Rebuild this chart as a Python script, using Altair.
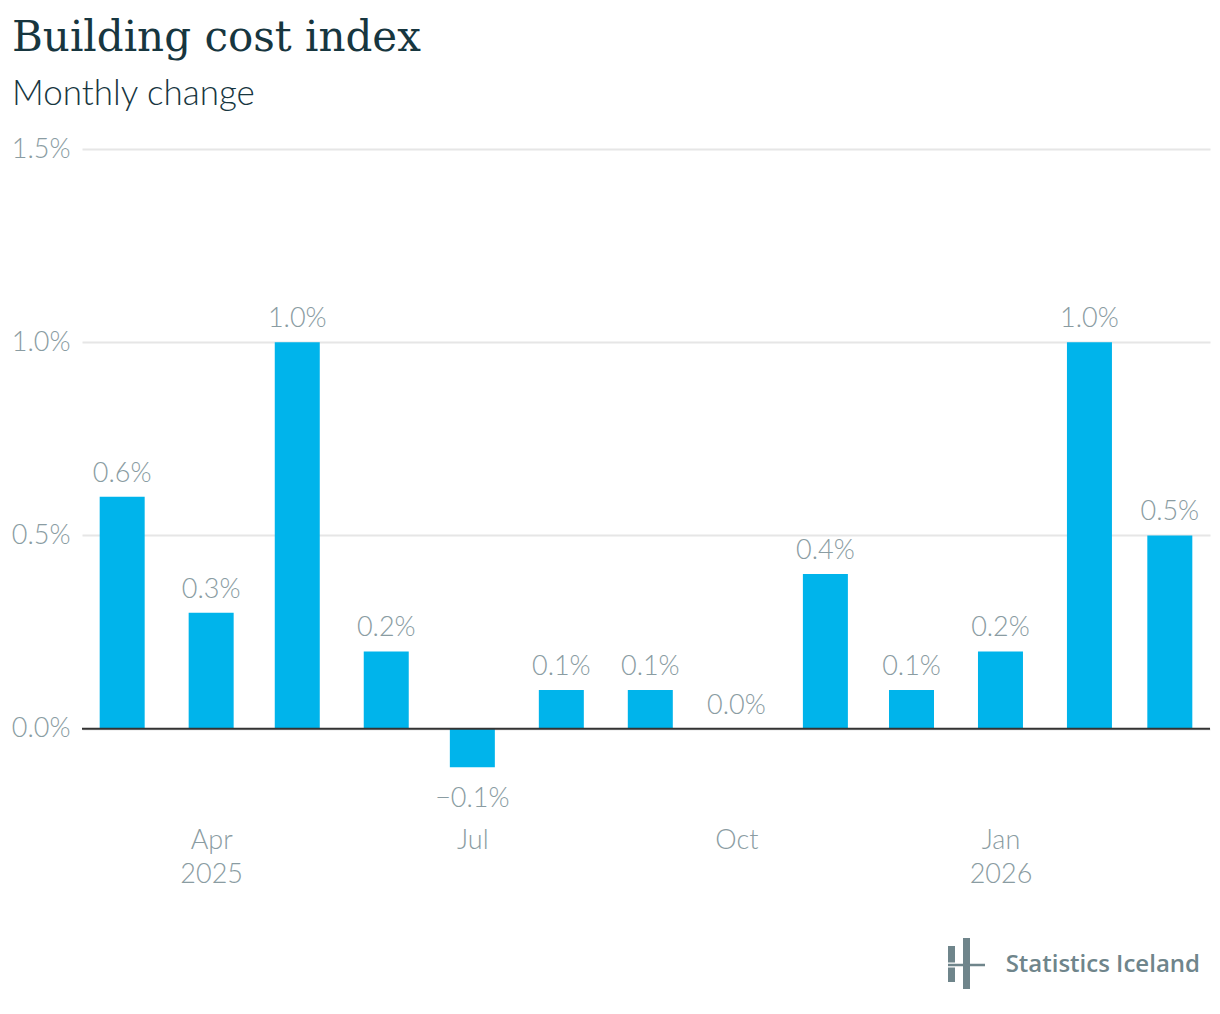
import altair as alt
import pandas as pd

# ---- data ----
months = ["2025-03-01", "2025-04-01", "2025-05-01", "2025-06-01", "2025-07-01",
          "2025-08-01", "2025-09-01", "2025-10-01", "2025-11-01", "2025-12-01",
          "2026-01-01", "2026-02-01", "2026-03-01"]
values = [0.6, 0.3, 1.0, 0.2, -0.1, 0.1, 0.1, 0.0, 0.4, 0.1, 0.2, 1.0, 0.5]
y_ticks = [0.0, 0.5, 1.0, 1.5]

def fmt(v):
    s = f"{abs(v):.1f}%"
    return ("\u2212" + s) if v < 0 else s

df = pd.DataFrame({"date": months, "value": values,
                   "label": [fmt(v) for v in values]})

BAR = "#00b4eb"
GRAY = "#8a9ca2"
DARK = "#17363f"
LOGO = "#6f858b"
FONT = "Lato"

x_scale = alt.Scale(type="utc", padding=0,
                    domain=[alt.DateTime(year=2025, month=2, date=15, utc=True),
                            alt.DateTime(year=2026, month=3, date=15, utc=True)])
y_scale = alt.Scale(domain=[-0.2, 1.5], nice=False, padding=0)

x_ticks = [alt.DateTime(year=2025, month=4, date=1, utc=True),
           alt.DateTime(year=2025, month=7, date=1, utc=True),
           alt.DateTime(year=2025, month=10, date=1, utc=True),
           alt.DateTime(year=2026, month=1, date=1, utc=True)]

base = alt.Chart(df)

bars = base.mark_bar(size=45, color=BAR).encode(
    x=alt.X("date:T", scale=x_scale, title=None,
            axis=alt.Axis(values=x_ticks, domain=False, ticks=False, grid=False,
                          labelExpr="[utcFormat(datum.value, '%b'), (utcmonth(datum.value) == 0 || (utcmonth(datum.value) == 3 && utcyear(datum.value) == 2025)) ? utcFormat(datum.value, '%Y') : '']",
                          labelFont=FONT, labelFontWeight=300, labelFontSize=27,
                          labelColor=GRAY, labelPadding=21, labelLineHeight=34)),
    y=alt.Y("value:Q", scale=y_scale, title=None,
            axis=alt.Axis(values=y_ticks, domain=False, ticks=False,
                          labelExpr="format(datum.value, '.1f') + '%'",
                          labelFont=FONT, labelFontWeight=300, labelFontSize=27,
                          labelColor=GRAY, labelPadding=12,
                          gridColor="#e6e6e6", gridWidth=2)),
)

pos_labels = base.transform_filter("datum.value >= 0").mark_text(
    font=FONT, fontWeight=300, fontSize=27, color=GRAY,
    baseline="alphabetic", dy=-15).encode(
    x=alt.X("date:T", scale=x_scale), y=alt.Y("value:Q", scale=y_scale), text="label:N")

neg_labels = base.transform_filter("datum.value < 0").mark_text(
    font=FONT, fontWeight=300, fontSize=27, color=GRAY,
    baseline="alphabetic", dy=40).encode(
    x=alt.X("date:T", scale=x_scale), y=alt.Y("value:Q", scale=y_scale), text="label:N")

zero = alt.Chart(pd.DataFrame({"z": [0]})).mark_rule(color="#333333", strokeWidth=2).encode(
    y=alt.Y("z:Q", scale=y_scale))

one = pd.DataFrame({"t": ["Statistics Iceland"]})
logo_text = alt.Chart(one).mark_text(
    font="Open Sans", fontWeight=600, fontSize=24, color=LOGO,
    align="right", baseline="alphabetic").encode(
    x=alt.value(1118), y=alt.value(823), text="t:N")

# logo icon (decoration, pixel placed)
icon_l = alt.Chart(one).mark_rule(color=LOGO, strokeWidth=7).encode(
    x=alt.value(869.5), y=alt.value(797), y2=alt.value(833))
icon_r = alt.Chart(one).mark_rule(color=LOGO, strokeWidth=7).encode(
    x=alt.value(884.5), y=alt.value(789), y2=alt.value(840))
icon_gap = alt.Chart(one).mark_rule(color="white", strokeWidth=5).encode(
    x=alt.value(866), x2=alt.value(881), y=alt.value(816))
icon_h = alt.Chart(one).mark_rule(color=LOGO, strokeWidth=2.5).encode(
    x=alt.value(866), x2=alt.value(903), y=alt.value(816))

chart = alt.layer(bars, zero, pos_labels, neg_labels,
                  logo_text, icon_l, icon_r, icon_gap, icon_h).properties(
    width=1128, height=657,
    background="white",
    padding={"left": 74, "top": 141, "right": 2, "bottom": 190},
    autosize=alt.AutoSizeParams(type="none"),
    title=alt.TitleParams(
        text="Building cost index", subtitle="Monthly change",
        anchor="start", frame="group", dx=-70,
        font="DejaVu Serif", fontSize=42, fontWeight=400, color=DARK,
        subtitleFont=FONT, subtitleFontWeight=300, subtitleFontSize=35,
        subtitleColor=DARK, subtitlePadding=17, offset=22),
).configure_view(stroke=None)

chart.save("out.html", embed_options={"renderer": "svg", "actions": False})
